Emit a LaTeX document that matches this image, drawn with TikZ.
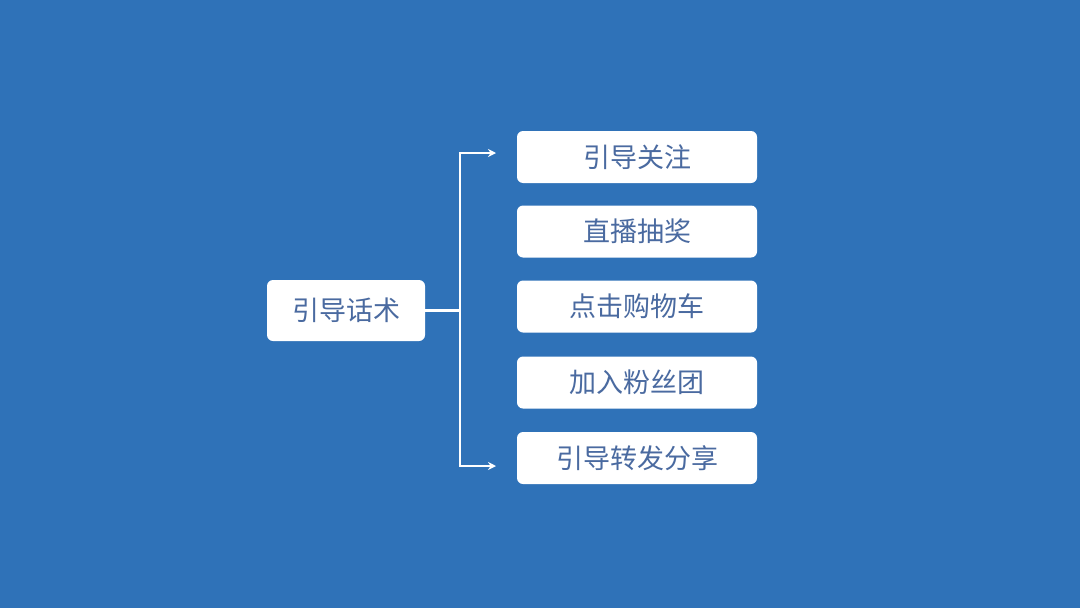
\documentclass[tikz,border=0pt]{standalone}
\usepackage{fontspec}
\usetikzlibrary{arrows.meta}
\newfontfamily\cjk{Noto Sans CJK SC}
\definecolor{bg}{HTML}{2F72B8}
\definecolor{txt}{HTML}{4A6AA0}
\begin{document}
\begin{tikzpicture}[x=1pt,y=-1pt,
  box/.style={fill=white,rounded corners=6pt,inner sep=0pt,text=txt,font=\cjk\fontsize{27}{30}\selectfont},
  conn/.style={white,line width=2.5pt},
  arr/.style={conn,-{Stealth[length=8pt,width=8pt]}}]
\fill[bg] (0,0) rectangle (1080,608);
\useasboundingbox (0,0) rectangle (1080,608);
\node[box,minimum width=158pt,minimum height=61pt] (root) at (346,310.5) {引导话术};
\foreach \n/\y/\t in {a/157/引导关注,b/231.5/直播抽奖,c/306.5/点击购物车,d/382.5/加入粉丝团,e/458/引导转发分享}
  \node[box,minimum width=240pt,minimum height=52pt] (\n) at (637,\y) {\t};
\coordinate (j) at (460,310.5);
\coordinate (top) at (460,153);
\coordinate (bot) at (460,466);
\coordinate (ta) at (496,153);
\coordinate (tb) at (496,466);
\draw[conn] (root.east) -- (j);
\draw[conn] (top) -- (bot);
\draw[arr] ([xshift=-1.25pt]top) -- (ta);
\draw[arr] ([xshift=-1.25pt]bot) -- (tb);
\end{tikzpicture}
\end{document}
